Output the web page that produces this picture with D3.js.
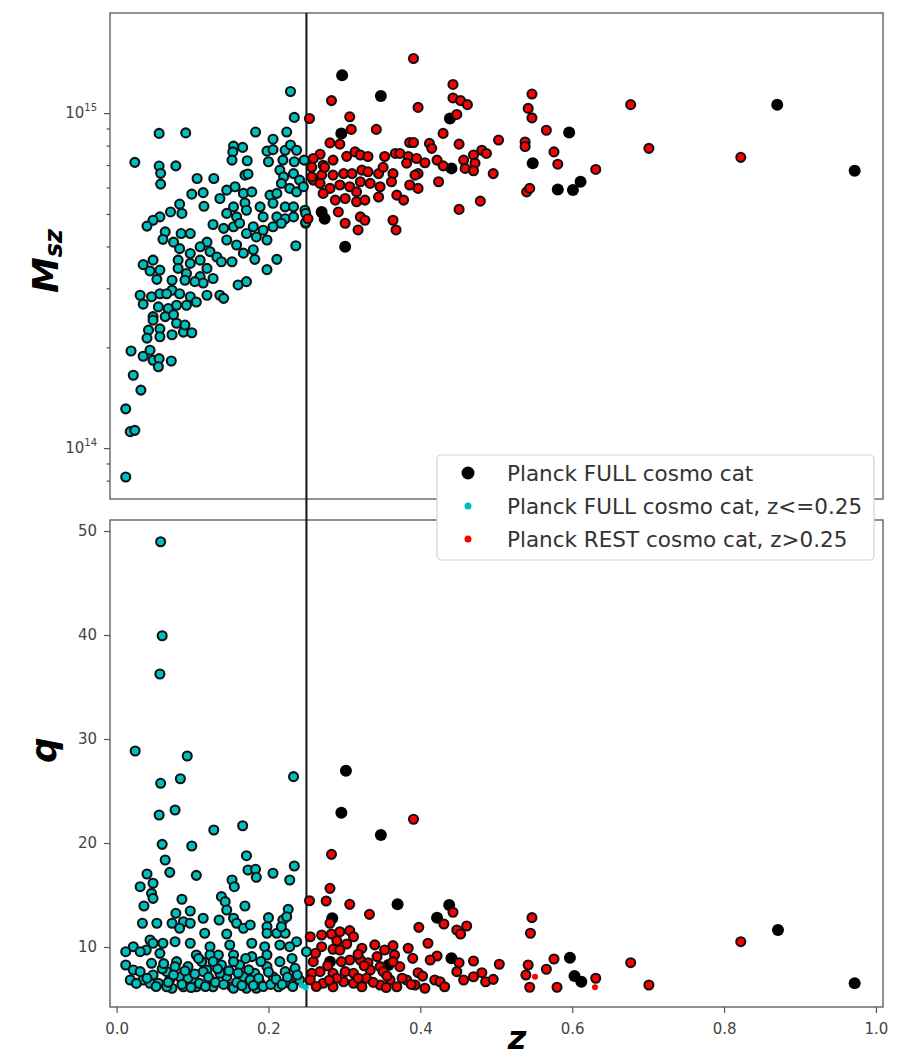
<!DOCTYPE html>
<html>
<head>
<meta charset="utf-8">
<script src="https://cdn.jsdelivr.net/npm/d3@7"></script>
<style>
  body { margin: 0; background: #fff; }
  text { font-family: 'DejaVu Sans', sans-serif; }
</style>
</head>
<body>
<script>
'use strict'

// upper panel: [z, M_sz in units of 1e14 Msun]
const topFull = [[0.297,12.98],[0.348,11.24],[0.439,9.64],[0.296,8.70],[0.441,6.84],[0.548,7.09],[0.596,8.75],[0.581,5.92],[0.601,5.90],[0.611,6.24],[0.270,5.07],[0.274,4.84],[0.301,3.99],[0.870,10.6],[0.972,6.73]]
const topCyan = [[0.229,11.6],[0.234,9.71],[0.056,8.70],[0.091,8.73],[0.183,8.78],[0.224,8.78],[0.206,8.36],[0.154,7.97],[0.166,7.90],[0.153,7.66],[0.198,7.70],[0.206,7.78],[0.222,7.75],[0.229,8.03],[0.237,7.75],[0.024,7.13],[0.056,6.95],[0.078,6.96],[0.058,6.61],[0.058,6.14],[0.152,7.24],[0.172,7.21],[0.200,7.16],[0.219,7.24],[0.234,7.16],[0.247,7.24],[0.106,6.38],[0.128,6.38],[0.169,6.53],[0.173,6.58],[0.215,6.76],[0.220,6.45],[0.233,6.60],[0.241,6.31],[0.217,6.17],[0.228,5.96],[0.237,5.82],[0.246,6.03],[0.099,5.73],[0.114,5.79],[0.136,5.56],[0.145,5.89],[0.156,6.03],[0.167,5.76],[0.178,5.82],[0.202,5.69],[0.211,5.76],[0.206,5.38],[0.083,5.35],[0.115,5.27],[0.071,5.07],[0.086,5.02],[0.154,5.25],[0.169,5.39],[0.171,5.13],[0.189,5.25],[0.222,5.25],[0.233,5.25],[0.248,5.13],[0.057,4.90],[0.048,4.79],[0.040,4.60],[0.145,5.02],[0.158,4.90],[0.193,4.90],[0.211,4.90],[0.222,4.84],[0.233,4.90],[0.249,4.69],[0.127,4.65],[0.064,4.42],[0.085,4.37],[0.097,4.37],[0.061,4.20],[0.075,4.12],[0.141,4.53],[0.154,4.58],[0.162,4.69],[0.180,4.58],[0.193,4.47],[0.206,4.58],[0.217,4.69],[0.171,4.37],[0.184,4.27],[0.198,4.18],[0.145,4.18],[0.158,4.04],[0.119,4.12],[0.110,3.99],[0.083,3.94],[0.097,3.81],[0.123,3.86],[0.132,3.72],[0.138,3.60],[0.152,3.60],[0.167,3.82],[0.180,3.91],[0.182,3.66],[0.211,3.66],[0.236,4.02],[0.035,3.53],[0.048,3.64],[0.044,3.38],[0.057,3.40],[0.081,3.64],[0.081,3.44],[0.097,3.56],[0.110,3.64],[0.119,3.44],[0.092,3.32],[0.198,3.41],[0.053,3.19],[0.073,3.17],[0.090,3.17],[0.110,3.25],[0.127,3.21],[0.160,3.07],[0.171,3.14],[0.031,2.86],[0.046,2.83],[0.057,2.89],[0.073,2.96],[0.083,2.89],[0.097,2.83],[0.119,2.86],[0.136,2.86],[0.141,2.80],[0.035,2.69],[0.055,2.64],[0.068,2.61],[0.079,2.67],[0.092,2.67],[0.105,2.73],[0.048,2.47],[0.064,2.47],[0.075,2.50],[0.048,2.41],[0.042,2.25],[0.040,2.13],[0.057,2.27],[0.079,2.36],[0.057,2.15],[0.073,2.18],[0.088,2.22],[0.099,2.21],[0.090,2.33],[0.019,1.95],[0.035,1.88],[0.044,1.96],[0.048,1.83],[0.056,1.85],[0.055,1.75],[0.072,1.82],[0.022,1.65],[0.032,1.49],[0.012,1.31],[0.018,1.12],[0.024,1.13],[0.012,0.82],[0.249,5.02],[0.249,4.72],[0.114,3.11],[0.103,3.14],[0.066,2.89]]
const topRest = [[0.391,14.56],[0.283,10.9],[0.254,9.64],[0.307,9.75],[0.309,8.94],[0.342,8.94],[0.397,10.4],[0.443,12.18],[0.443,11.1],[0.453,10.9],[0.462,10.6],[0.448,9.91],[0.430,8.70],[0.281,8.15],[0.294,8.08],[0.386,8.17],[0.391,8.17],[0.412,8.12],[0.415,7.85],[0.451,8.08],[0.503,8.31],[0.481,7.75],[0.487,7.58],[0.470,7.50],[0.538,8.20],[0.538,7.95],[0.566,8.89],[0.547,11.4],[0.542,10.33],[0.547,9.68],[0.576,7.66],[0.581,7.04],[0.631,6.79],[0.268,7.54],[0.259,7.32],[0.272,6.99],[0.285,7.24],[0.303,7.43],[0.314,7.66],[0.321,7.50],[0.331,7.42],[0.353,7.42],[0.367,7.58],[0.373,7.58],[0.384,7.42],[0.382,7.09],[0.395,7.32],[0.406,7.11],[0.422,7.24],[0.430,6.96],[0.457,7.24],[0.472,7.09],[0.459,6.84],[0.470,6.73],[0.496,6.60],[0.259,6.31],[0.270,6.53],[0.274,6.89],[0.285,6.53],[0.299,6.60],[0.310,6.60],[0.323,6.76],[0.331,6.68],[0.345,6.60],[0.351,6.89],[0.364,6.60],[0.397,6.60],[0.393,6.53],[0.268,6.17],[0.281,5.96],[0.294,6.10],[0.307,6.03],[0.321,6.24],[0.334,6.17],[0.347,6.03],[0.362,6.24],[0.272,5.76],[0.288,5.50],[0.301,5.56],[0.316,5.82],[0.316,5.44],[0.327,5.50],[0.345,5.62],[0.369,5.69],[0.378,5.50],[0.386,6.10],[0.397,5.96],[0.424,6.24],[0.479,5.46],[0.451,5.16],[0.292,5.07],[0.301,4.69],[0.321,4.90],[0.327,4.79],[0.318,4.48],[0.364,4.79],[0.368,4.48],[0.252,4.84],[0.257,6.45],[0.257,6.89],[0.677,10.6],[0.701,7.85],[0.822,7.38],[0.540,5.82],[0.544,5.96]]

// lower panel: [z, q]
const botFull = [[0.296,22.91],[0.348,20.77],[0.370,14.10],[0.284,12.76],[0.438,14.04],[0.422,12.82],[0.441,8.91],[0.597,8.97],[0.603,7.21],[0.612,6.66],[0.281,8.59],[0.358,8.27],[0.302,26.95],[0.871,11.63],[0.972,6.51]]
const botCyan = [[0.058,48.97],[0.060,39.93],[0.057,36.25],[0.0245,28.85],[0.093,28.37],[0.058,25.74],[0.084,26.18],[0.233,26.38],[0.056,22.69],[0.077,23.17],[0.128,21.25],[0.166,21.66],[0.060,19.87],[0.099,19.71],[0.171,18.78],[0.064,18.37],[0.070,17.18],[0.105,16.89],[0.173,17.40],[0.183,17.47],[0.184,16.70],[0.206,17.09],[0.234,17.79],[0.228,16.44],[0.040,17.02],[0.048,16.13],[0.031,15.80],[0.046,15.16],[0.048,14.68],[0.036,13.94],[0.152,16.44],[0.155,15.80],[0.086,14.59],[0.138,14.84],[0.143,14.36],[0.169,13.94],[0.145,13.56],[0.226,13.62],[0.078,13.24],[0.097,13.46],[0.114,12.76],[0.034,12.28],[0.053,12.28],[0.073,12.28],[0.088,12.43],[0.097,12.28],[0.135,12.60],[0.154,12.76],[0.158,12.28],[0.200,12.82],[0.219,12.60],[0.224,12.91],[0.083,11.80],[0.116,11.32],[0.145,11.25],[0.167,11.80],[0.176,12.12],[0.198,11.95],[0.198,11.32],[0.211,11.32],[0.222,11.32],[0.217,11.95],[0.044,10.67],[0.048,10.36],[0.022,10.03],[0.012,9.55],[0.039,9.71],[0.061,10.36],[0.077,10.51],[0.097,10.36],[0.123,10.03],[0.149,10.19],[0.178,10.36],[0.195,10.03],[0.215,10.19],[0.237,10.51],[0.228,10.03],[0.250,9.55],[0.012,8.27],[0.022,7.79],[0.018,6.83],[0.031,7.63],[0.035,6.83],[0.046,8.43],[0.048,7.31],[0.055,6.51],[0.066,7.63],[0.070,6.83],[0.073,6.03],[0.079,8.59],[0.083,7.14],[0.088,6.18],[0.094,8.11],[0.101,6.83],[0.105,6.18],[0.112,8.59],[0.119,7.79],[0.123,6.83],[0.127,6.18],[0.134,9.23],[0.138,8.27],[0.145,7.14],[0.152,6.18],[0.154,9.23],[0.162,8.27],[0.167,7.14],[0.171,6.03],[0.178,9.07],[0.182,7.47],[0.189,6.51],[0.198,8.11],[0.206,7.14],[0.215,8.59],[0.222,7.63],[0.228,6.51],[0.235,7.95],[0.241,6.83],[0.031,9.55],[0.057,9.39],[0.123,9.23],[0.105,9.23],[0.154,8.59],[0.198,9.23],[0.136,7.47],[0.114,7.63],[0.066,6.18],[0.044,6.51],[0.094,6.99],[0.176,6.83],[0.213,6.18],[0.184,6.03],[0.154,6.03],[0.077,8.11],[0.040,7.0],[0.052,6.2],[0.060,7.9],[0.068,6.6],[0.075,7.3],[0.086,6.4],[0.090,7.7],[0.098,6.1],[0.103,7.4],[0.109,6.5],[0.117,6.2],[0.121,7.1],[0.130,6.6],[0.133,7.9],[0.141,6.4],[0.148,7.7],[0.158,6.6],[0.160,7.5],[0.165,6.3],[0.174,7.8],[0.180,6.3],[0.187,7.0],[0.193,6.2],[0.200,7.6],[0.203,6.4],[0.210,6.9],[0.218,6.4],[0.225,7.1],[0.232,6.2],[0.238,7.3],[0.026,6.5],[0.062,8.4],[0.108,8.9],[0.127,8.6],[0.170,8.9],[0.190,8.6],[0.231,8.9]]
const botRest = [[0.391,22.28],[0.283,18.91],[0.281,15.64],[0.254,14.45],[0.276,14.42],[0.307,14.10],[0.333,13.14],[0.443,13.34],[0.431,12.21],[0.398,11.89],[0.448,11.63],[0.453,11.25],[0.461,12.02],[0.547,12.82],[0.545,11.32],[0.410,10.36],[0.255,10.99],[0.270,11.15],[0.283,11.25],[0.294,11.47],[0.307,11.57],[0.312,10.99],[0.303,10.29],[0.270,10.03],[0.285,9.78],[0.323,9.88],[0.364,10.13],[0.384,9.88],[0.422,9.13],[0.413,8.75],[0.390,8.91],[0.366,9.23],[0.353,9.71],[0.343,9.07],[0.331,8.49],[0.321,8.75],[0.307,8.75],[0.296,8.59],[0.259,8.59],[0.257,7.47],[0.268,7.63],[0.285,7.47],[0.301,7.63],[0.312,7.47],[0.334,7.79],[0.347,8.11],[0.373,8.11],[0.397,7.53],[0.419,6.83],[0.448,7.63],[0.451,8.49],[0.470,8.65],[0.481,7.53],[0.470,7.14],[0.457,6.83],[0.486,6.66],[0.496,6.89],[0.504,8.34],[0.542,8.27],[0.539,7.31],[0.544,6.13],[0.566,7.86],[0.576,8.85],[0.580,6.13],[0.631,6.99],[0.255,6.83],[0.272,6.51],[0.285,6.18],[0.299,6.66],[0.312,6.51],[0.323,6.18],[0.329,6.99],[0.347,6.35],[0.360,6.83],[0.369,6.18],[0.382,6.83],[0.393,6.35],[0.406,6.03],[0.426,6.66],[0.432,6.18],[0.351,7.63],[0.364,8.59],[0.294,9.71],[0.281,12.28],[0.677,8.49],[0.701,6.35],[0.822,10.51],[0.262,9.4],[0.278,8.2],[0.290,7.0],[0.318,7.0],[0.338,6.6],[0.356,7.2],[0.376,7.0],[0.388,6.4],[0.403,7.2],[0.290,10.6],[0.318,9.3],[0.340,10.2],[0.263,6.2],[0.280,6.8],[0.326,8.2],[0.355,6.1]]
const botCyanSmall = [[0.244,6.3],[0.249,6.1]]
const botRestSmall = [[0.551,7.14],[0.630,6.13]]

const zTicks = [0, 0.2, 0.4, 0.6, 0.8, 1.0]
const mTicks = [1, 10]
const mMinor = [0.8, 0.9, 2, 3, 4, 5, 6, 7, 8, 9]
const qTicks = [10, 20, 30, 40, 50]
const zCut = 0.25
const legendLabels = ['Planck FULL cosmo cat', 'Planck FULL cosmo cat, z<=0.25', 'Planck REST cosmo cat, z>0.25']

const cyan = '#00bfbf'
const red = '#ff0000'

var width = 901
var height = 1058
var left = 110, right = 883
var top1 = 13, bot1 = 499, top2 = 520, bot2 = 1007

var svg = d3.select('body').append('svg')
  .attr('width', width)
  .attr('height', height)

var x = d3.scaleLinear().domain([-0.0087, 1.0093]).range([left, right])
var yM = d3.scaleLog().domain([0.705, 19.9]).range([bot1, top1])
var yQ = d3.scaleLinear().domain([4.23, 51.06]).range([bot2, top2])

function styleAxis (g) {
  g.select('.domain').remove()
  g.attr('color', '#555').attr('font-size', 15).attr('font-family', 'DejaVu Sans')
  g.selectAll('.tick line').attr('stroke-width', 1.2)
  g.selectAll('.tick text').attr('fill', '#444')
}

// y axes
const axM = svg.append('g')
  .attr('transform', `translate(${left}, 0)`)
  .call(d3.axisLeft(yM).tickValues(mTicks).tickSize(6).tickPadding(7).tickFormat(''))
  .call(styleAxis)
axM.selectAll('.tick text').each(function (d) {
  const t = d3.select(this).text('10')
  t.append('tspan').attr('dy', -7).attr('font-size', 10).text(Math.round(Math.log10(d)) + 14)
})
svg.append('g')
  .attr('transform', `translate(${left}, 0)`)
  .call(d3.axisLeft(yM).tickValues(mMinor).tickSize(3.5).tickFormat(''))
  .call(styleAxis)

svg.append('g')
  .attr('transform', `translate(${left}, 0)`)
  .call(d3.axisLeft(yQ).tickValues(qTicks).tickSize(6).tickPadding(7))
  .call(styleAxis)

svg.append('g')
  .attr('transform', `translate(0, ${bot2})`)
  .call(d3.axisBottom(x).tickValues(zTicks).tickSize(6).tickPadding(10).tickFormat(d3.format('.1f')))
  .call(styleAxis)

// frames
svg.selectAll('rect.frame')
  .data([[top1, bot1], [top2, bot2]])
  .enter().append('rect')
  .attr('class', 'frame')
  .attr('x', left)
  .attr('y', d => d[0])
  .attr('width', right - left)
  .attr('height', d => d[1] - d[0])
  .attr('fill', 'none')
  .attr('stroke', '#555')
  .attr('stroke-width', 1.3)

// z = 0.25 cut
svg.append('line')
  .attr('x1', x(zCut)).attr('x2', x(zCut))
  .attr('y1', top1).attr('y2', bot2)
  .attr('stroke', '#111')
  .attr('stroke-width', 2)

function dots (data, y, r, fill, edge) {
  svg.append('g').selectAll('circle')
    .data(data)
    .enter().append('circle')
    .attr('cx', d => x(d[0]))
    .attr('cy', d => y(d[1]))
    .attr('r', r)
    .attr('fill', fill)
    .attr('stroke', edge ? '#111' : 'none')
    .attr('stroke-width', 2.1)
}

dots(topFull, yM, 6, '#000', false)
dots(topCyan, yM, 4.5, cyan, true)
dots(topRest, yM, 4.5, red, true)

dots(botFull, yQ, 6, '#000', false)
dots(botCyan, yQ, 4.5, cyan, true)
dots(botRest, yQ, 4.5, red, true)
dots(botCyanSmall, yQ, 3, cyan, false)
dots(botRestSmall, yQ, 3, red, false)

// axis labels
svg.append('text')
  .attr('transform', 'translate(58, 261) rotate(-90)')
  .attr('text-anchor', 'middle')
  .attr('font-size', 36)
  .attr('font-weight', 'bold')
  .attr('font-style', 'italic')
  .text('M')
  .append('tspan')
  .attr('font-size', 24)
  .attr('dy', 4)
  .text('sz')

svg.append('text')
  .attr('transform', 'translate(56, 750) rotate(-90)')
  .attr('text-anchor', 'middle')
  .attr('font-size', 36)
  .attr('font-weight', 'bold')
  .attr('font-style', 'italic')
  .text('q')

svg.append('text')
  .attr('x', 517)
  .attr('y', 1049)
  .attr('text-anchor', 'middle')
  .attr('font-size', 32)
  .attr('font-weight', 'bold')
  .attr('font-style', 'italic')
  .text('z')

// legend
const legend = svg.append('g').attr('transform', 'translate(437, 455)')
legend.append('rect')
  .attr('width', 437)
  .attr('height', 105)
  .attr('rx', 4)
  .attr('fill', '#fff')
  .attr('stroke', '#d4d4d4')
  .attr('stroke-width', 1.2)
const legendStyle = [{fill: '#000', r: 6.5}, {fill: cyan, r: 3.5}, {fill: red, r: 3.5}]
const rows = legend.selectAll('g.row')
  .data(legendLabels)
  .enter().append('g')
  .attr('class', 'row')
  .attr('transform', (d, i) => `translate(0, ${18 + i * 33})`)
rows.append('circle')
  .attr('cx', 31)
  .attr('r', (d, i) => legendStyle[i].r)
  .attr('fill', (d, i) => legendStyle[i].fill)
rows.append('text')
  .attr('x', 70)
  .attr('y', 7.5)
  .attr('font-size', 21.5)
  .attr('fill', '#333')
  .text(d => d)
</script>
</body>
</html>
